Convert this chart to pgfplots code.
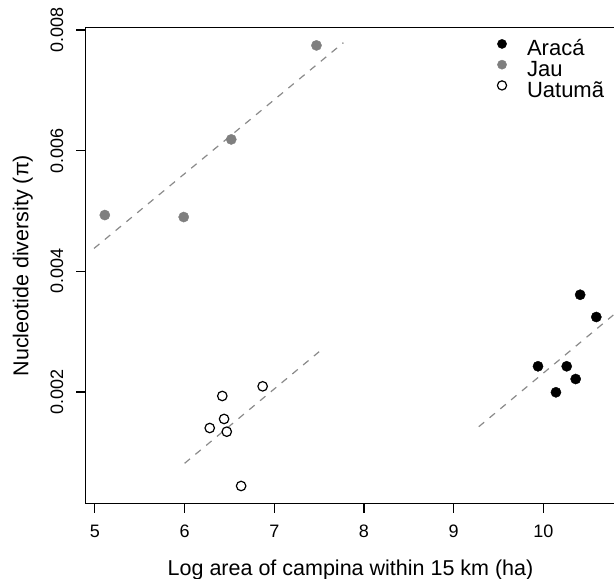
\documentclass[border=0pt]{standalone}
\usepackage{fontspec}
\setmainfont{Liberation Sans}
\usepackage{pgfplots}
\pgfplotsset{compat=1.18}
\definecolor{jaugray}{HTML}{7F7F7F}
\definecolor{fitgray}{HTML}{8A8A8A}
\begin{document}
\begin{tikzpicture}
\useasboundingbox (0,0) rectangle (614bp,579bp);
\begin{axis}[
 at={(85.1bp,75.4bp)},anchor=south west,
 scale only axis,width=530.9bp,height=475.8bp,
 xmin=4.8904,xmax=10.8096,ymin=0.00015,ymax=0.008037,
 axis line style={line width=1.1bp},
 tick style={black,line width=1.1bp},
 tick align=outside,major tick length=9bp,
 xtick={5,6,7,8,9,10},ytick={0.002,0.004,0.006,0.008},
 xtick pos=bottom,ytick pos=left,
 scaled y ticks=false,
 /pgf/number format/assume math mode=true,
 yticklabel style={/pgf/number format/.cd,fixed,precision=3,fixed zerofill,/tikz/.cd,
   rotate=90,anchor=south,inner sep=0pt,text depth=0pt},
 xticklabel style={anchor=north,inner sep=0pt,text height=12.9bp},
 xticklabel shift=11.7bp,yticklabel shift=12.9bp,
 tick label style={font=\fontsize{18bp}{21bp}\selectfont},
 label style={font=\fontsize{21.5bp}{25bp}\selectfont},
 xlabel={Log area of campina within 15 km (ha)},
 ylabel={Nucleotide diversity (π)},
 xlabel style={at={(axis description cs:0.5,-0.1515)},anchor=base},
 ylabel style={at={(axis description cs:-0.107,0.5)},anchor=base},
 legend style={draw=none,fill=none,at={(axis description cs:0.774,0.9758)},anchor=north west,
   font=\fontsize{22bp}{26bp}\selectfont,row sep=0pt,column sep=19bp,inner sep=0pt,outer sep=0pt,
   nodes={inner sep=0pt,text height=12bp,text depth=4.5bp}},
 legend cell align=left,
 legend image code/.code={\path[draw=none,fill=none] (-6bp,-4.5bp) rectangle (6bp,12bp);
   \draw[mark repeat=2,mark phase=2,mark size=4.6bp] plot coordinates {(-6bp,7.9bp) (0bp,7.9bp) (6bp,7.9bp)};},
]
% Araca
\addplot[only marks,mark=*,mark size=5.1bp,black,mark options={fill=black}] coordinates {
(10.41,0.003612) (10.59,0.003243) (9.94,0.002426) (10.26,0.002426) (10.36,0.002215) (10.14,0.001995)
};
\addlegendentry{Aracá}
% Jau
\addplot[only marks,mark=*,mark size=5.1bp,jaugray,mark options={fill=jaugray}] coordinates {
(5.11,0.004933) (5.99,0.004900) (6.52,0.006187) (7.47,0.007745)
};
\addlegendentry{Jau}
% Uatuma
\addplot[only marks,mark=*,mark size=4.75bp,black,mark options={fill=white,line width=1.2bp}] coordinates {
(6.42,0.001934) (6.87,0.002094) (6.44,0.001553) (6.28,0.001403) (6.47,0.001342) (6.63,0.000442)
};
\addlegendentry{Uatumã}
% fitted lines
\addplot[forget plot,fitgray,line width=1.2bp,dash pattern=on 7bp off 7bp] coordinates {(4.99,0.00438) (7.77,0.00779)};
\addplot[forget plot,fitgray,line width=1.2bp,dash pattern=on 7bp off 7bp] coordinates {(6.00,0.000818) (7.50,0.002668)};
\addplot[forget plot,fitgray,line width=1.2bp,dash pattern=on 7bp off 7bp] coordinates {(9.28,0.001425) (10.78,0.003276)};
\end{axis}
\end{tikzpicture}
\end{document}
